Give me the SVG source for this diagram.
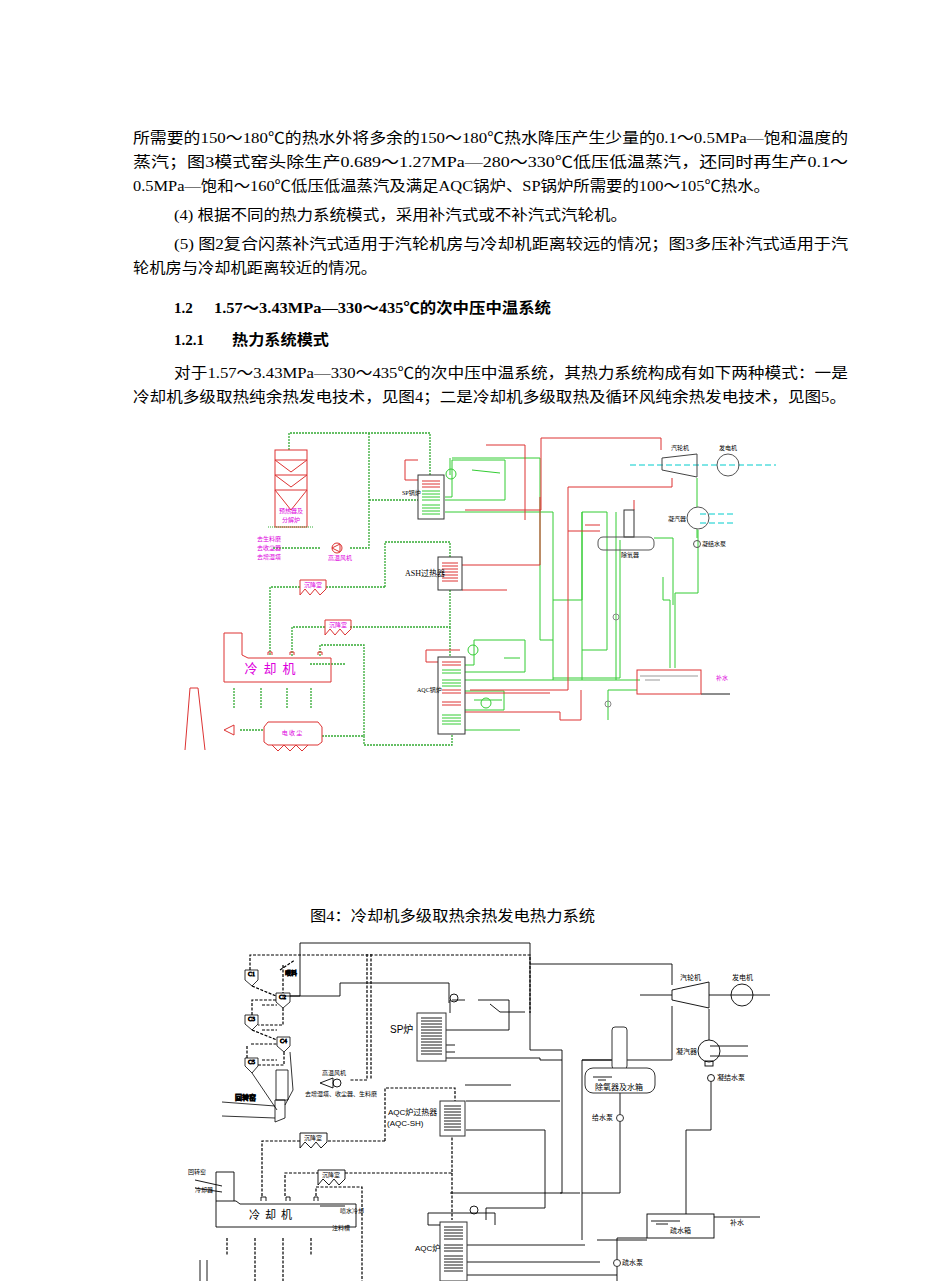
<svg xmlns="http://www.w3.org/2000/svg" width="950" height="1281" viewBox="0 0 950 1281">
<style>
.t{font-family:"Liberation Serif","Noto Sans CJK SC",serif;font-size:15px;fill:#000}
.b{font-weight:bold}
.s{font-family:"Liberation Serif","Noto Sans CJK SC",serif;font-size:6px;fill:#000}
.m{font-family:"Noto Sans CJK SC",sans-serif;font-size:6px;fill:#d0d}
.g{fill:none;stroke:#33cc33;stroke-width:1}
.gd{fill:none;stroke:#33aa33;stroke-width:1.3;stroke-dasharray:2 1}
.r{fill:none;stroke:#dd3333;stroke-width:1}
.k{fill:none;stroke:#000;stroke-width:0.9}
.kd{fill:none;stroke:#000;stroke-width:1.2;stroke-dasharray:3 1.5}
.bx{fill:#fff;stroke:#333;stroke-width:1}
.c{fill:none;stroke:#00cccc;stroke-dasharray:6 3}
</style>
<rect width="950" height="1281" fill="#fff"/>
<g id="text">
<text class="t" x="133" y="143" textLength="715" lengthAdjust="spacingAndGlyphs">所需要的150～180℃的热水外将多余的150～180℃热水降压产生少量的0.1～0.5MPa—饱和温度的</text>
<text class="t" x="133" y="167" textLength="715" lengthAdjust="spacingAndGlyphs">蒸汽；图3模式窑头除生产0.689～1.27MPa—280～330℃低压低温蒸汽，还同时再生产0.1～</text>
<text class="t" x="133" y="191" textLength="637" lengthAdjust="spacingAndGlyphs">0.5MPa—饱和～160℃低压低温蒸汽及满足AQC锅炉、SP锅炉所需要的100～105℃热水。</text>
<text class="t" x="174" y="220" textLength="453" lengthAdjust="spacingAndGlyphs">(4) 根据不同的热力系统模式，采用补汽式或不补汽式汽轮机。</text>
<text class="t" x="174" y="249" textLength="674" lengthAdjust="spacingAndGlyphs">(5) 图2复合闪蒸补汽式适用于汽轮机房与冷却机距离较远的情况；图3多压补汽式适用于汽</text>
<text class="t" x="133" y="273" textLength="244" lengthAdjust="spacingAndGlyphs">轮机房与冷却机距离较近的情况。</text>
<text class="t b" x="174" y="313">1.2</text>
<text class="t b" x="214" y="313" textLength="337" lengthAdjust="spacingAndGlyphs">1.57～3.43MPa—330～435℃的次中压中温系统</text>
<text class="t b" x="174" y="345">1.2.1</text>
<text class="t b" x="232" y="345" textLength="97" lengthAdjust="spacingAndGlyphs">热力系统模式</text>
<text class="t" x="174" y="378" textLength="674" lengthAdjust="spacingAndGlyphs">对于1.57～3.43MPa—330～435℃的次中压中温系统，其热力系统构成有如下两种模式：一是</text>
<text class="t" x="133" y="402" textLength="713" lengthAdjust="spacingAndGlyphs">冷却机多级取热纯余热发电技术，见图4；二是冷却机多级取热及循环风纯余热发电技术，见图5。</text>
<text class="t" x="310" y="921" textLength="285" lengthAdjust="spacingAndGlyphs">图4：冷却机多级取热余热发电热力系统</text>
</g>
<g id="connectors">
<path class="gd" d="M289 450V433H430V475M369 433V548H350M320 548H272M369 500H418"/>
<path class="gd" d="M385 587H326M300 587H270V656M385 587V542H450V557"/>
<path class="gd" d="M292 656V627H325M350 627H450V590M450 627V657"/>
<path class="gd" d="M320 656V645H364V736H322M364 736V745H452V732"/>
<path class="gd" d="M240 730H264M234 688V708M261 688V708M287 688V708M311 688V708M310 664H345"/>
<path class="g" d="M450 475V458M445 497H452V460H505V500H445M445 512H553V680M452 458H540V640H553M472 470L500 473"/>
<path class="g" d="M465 665H474V640H525V672H465M465 680H640M465 710H504V691H465M474 700H502M465 730H520M504 658L520 658"/>
<path class="g" d="M553 600H582V512H607V650H582M582 512V680M616 512V680M620 540V678H553"/>
<path class="g" d="M654 538H673V605M663 577V600H670V668M698 530V593H675V668M608 690V720M608 690H637"/>
<path class="r" d="M541 438H661V450M541 438V510H465M568 487H672V478M568 487V690H470M585 525H600M568 531H600"/>
<path class="r" d="M486 445H525V520M418 460H405V480H418M460 650H426V662H438M465 693H550M465 712H560V720H581V690"/>
<path class="r" d="M462 565H540V497M462 590H507"/>
<path class="r" d="M634 510V500"/>
<path class="k" d="M701 694H730"/>
<path class="c" d="M630 465H776M700 514H735M700 523H735"/>
<path class="g" d="M697 478V507M697 529V538"/>
<path class="k" d="M300 943H530V1050M283 996H300V943M530 964H672V985M530 1050H562V1193H450M511 1085H465M465 1000H452M560 1101H466M466 1130H545V1208H486V1220"/>
<path class="k" d="M340 983H449V1003M340 983V996H290M450 1000V1013M446 1030H509V1000H478M490 1004L500 1012H525M446 1058H540V1060H562"/>
<path class="k" d="M446 1045H455M446 1052H455M582 1240V1060H672V1006M582 1060H620"/>
<path class="k" d="M620 1093V1193H582M560 1193H580"/>
<path class="k" d="M709 1009V1040M711 1082V1130H686V1214M597 1240H647M617 1238V1281M617 1238H647M714 1217H760M710 1046H748M710 1056H748"/>
<path class="k" d="M466 1245H585M466 1262H600M466 1275H617"/>
<path class="kd" d="M367 954V1080H350M371 954V1080M250 970V955H530V1013M262 1030H277M251 1044H277M262 1060H277M262 1005H277"/>
<path class="kd" d="M252 986L276 996M283 1008V1025H258M252 1030L277 1040M284 1052V1065H258M252 1015V1000H276M247 1058V1045M283 965V993M280 970L295 960"/>
<path class="kd" d="M385 1141H327M300 1141H262V1196M385 1141V1088H455V1101M285 1196V1173H318M345 1173H452V1136M452 1173V1220"/>
<path class="kd" d="M316 1196V1187H362V1281"/>
<path class="kd" d="M227 1238V1255M255 1238V1281M283 1238V1281M311 1238V1255"/>
</g>
<g id="preheater1">
<rect x="275" y="450" width="32" height="77" class="r"/>
<path class="r" d="M275 460H307M275 475H307M275 490H307M275 460L291 472L307 460M275 475L291 487L307 475M275 490L291 510L307 490"/>
<path d="M268 527H314" stroke="#33aa33" stroke-dasharray="1 1"/>
<text class="m" x="291" y="513" text-anchor="middle">预热器及</text>
<text class="m" x="291" y="522" text-anchor="middle">分解炉</text>
</g>
<g id="fan1">
<circle cx="337" cy="548" r="5" class="r"/><path class="r" d="M332 548L340 544V552Z"/>
<text class="m" x="340" y="560" text-anchor="middle">高温风机</text>
<text class="m" x="257" y="541">去生料磨</text><text class="m" x="257" y="550">去收尘器</text><text class="m" x="257" y="559">去增湿塔</text>
</g>
<g id="sp1"><rect x="418" y="475" width="26" height="44" class="bx"/>
<path class="r" d="M422 481H440M422 484H440M422 487H440"/><path class="g" d="M422 491H440M422 494H440M422 497H440M422 500H440M422 505H440M422 508H440M422 511H440M422 514H440"/>
<text class="s" x="402" y="495">SP锅炉</text></g>
<g id="ash1"><rect x="438" y="557" width="24" height="33" class="bx"/>
<path class="r" d="M442 563H458M442 566H458M442 569H458M442 572H458M442 575H458M442 578H458M442 581H458"/>
<text class="s" x="405" y="576" style="font-size:8px">ASH过热器</text></g>
<g id="aqc1"><rect x="438" y="657" width="27" height="77" class="bx"/>
<path class="r" d="M442 662H461M442 665H461M442 690H461M442 693H461M442 702H461M442 705H461"/><path class="g" d="M442 670H461M442 673H461M442 680H461M442 683H461M442 686H461M442 715H461M442 718H461M442 721H461M442 724H461"/>
<text class="s" x="417" y="692">AQC锅炉</text>
<circle cx="473" cy="650" r="5" class="g"/><circle cx="486" cy="703" r="5" class="g"/><circle cx="451" cy="474" r="5" class="g"/></g>
<g id="settle1"><path class="r" d="M300 580H326V589L320 595L315 589L310 595L305 589L300 595Z"/><text class="m" x="313" y="587" text-anchor="middle">沉降室</text>
<path class="r" d="M325 620H351V629L345 635L340 629L335 635L330 629L325 635Z"/><text class="m" x="338" y="627" text-anchor="middle">沉降室</text></g>
<g id="cooler1"><path class="r" d="M224 633H242V655L248 658H331V682H224Z"/><text x="273" y="673" text-anchor="middle" style="font-family:'Noto Sans CJK SC',sans-serif;font-size:13px;fill:#d0d;letter-spacing:6px">冷却机</text>
<path class="r" d="M268 655V652H272V655M290 655V652H294V655M318 655V652H322V655"/></g>
<g id="esp1"><path class="r" d="M268 722H318L322 727V742L318 745H268L264 742V727Z M272 745L278 751L284 745L290 751L296 745L302 751L308 745"/>
<text class="m" x="292" y="735" text-anchor="middle">电 收 尘</text>
<path class="r" d="M224 730L234 725V735Z"/><path class="r" d="M185 750L190 688H198L205 750"/></g>
<g id="turbine1"><path d="M662 458L697 454V477L662 470Z" fill="none" stroke="#444"/><circle cx="728" cy="465" r="11" fill="none" stroke="#555"/>
<text class="s" x="680" y="450" text-anchor="middle">汽轮机</text><text class="s" x="728" y="450" text-anchor="middle">发电机</text></g>
<g id="cond1"><circle cx="698" cy="518" r="11" fill="none" stroke="#555"/><circle cx="697" cy="544" r="3.5" fill="none" stroke="#555"/>
<text class="s" x="668" y="521">凝汽器</text><text class="s" x="702" y="546">凝结水泵</text></g>
<g id="dea1"><rect x="624" y="510" width="10" height="27" fill="none" stroke="#333"/><rect x="598" y="537" width="56" height="13" rx="5" fill="none" stroke="#555"/>
<text class="s" x="630" y="557" text-anchor="middle">除氧器</text></g>
<g id="tank1"><rect x="637" y="670" width="64" height="24" class="r"/><path d="M640 676H698M645 680H660" stroke="#555" stroke-width="0.6"/>
<text class="m" x="716" y="680">补水</text><circle cx="616" cy="617" r="3" fill="none" stroke="#888"/><circle cx="608" cy="704" r="3" fill="none" stroke="#888"/></g>
<g id="preheater2" fill="none" stroke="#000" stroke-width="0.8">
<path d="M245 970H258V980L252 986L245 980Z"/><text class="s" x="248" y="976">C1</text>
<path d="M276 993H290V1002L283 1008L276 1002Z"/><text class="s" x="279" y="999">C2</text>
<path d="M245 1015H258V1024L252 1030L245 1024Z"/><text class="s" x="248" y="1021">C3</text>
<path d="M277 1037H290V1046L284 1052L277 1046Z"/><text class="s" x="280" y="1043">C4</text>
<path d="M245 1058H258V1066L252 1073L245 1066Z"/><text class="s" x="248" y="1064">C5</text>
<path d="M276 1070H288V1100H276Z M252 1073L277 1110M290 1052L293 1090L285 1105"/>
<path d="M275 1100H285V1118L275 1122Z M222 1102L275 1106M222 1116L275 1118"/>
<text class="s" x="235" y="1100" style="font-size:7px">回转窑</text>
<text class="s" x="285" y="975">喂料</text>
</g>
<g id="fan2"><circle cx="337" cy="1083" r="4" class="k"/><path class="k" d="M320 1083L333 1078V1088Z"/>
<text class="s" x="322" y="1075">高温风机</text><text class="s" x="305" y="1096">去增湿塔、收尘器、生料磨</text></g>
<g id="sp2"><rect x="417" y="1013" width="29" height="48" class="bx"/>
<path class="k" d="M421 1018H442M421 1021H442M421 1024H442M421 1027H442M421 1030H442M421 1033H442M421 1036H442M421 1039H442M421 1042H442M421 1045H442M421 1048H442M421 1051H442M421 1054H442"/>
<text x="390" y="1033" style="font-family:'Liberation Sans','Noto Sans CJK SC',sans-serif;font-size:10px">SP炉</text><circle cx="454" cy="998" r="4" class="k"/></g>
<g id="aqcsh2"><rect x="440" y="1101" width="25" height="35" class="bx"/>
<path class="k" d="M444 1106H461M444 1109H461M444 1112H461M444 1115H461M444 1118H461M444 1121H461M444 1124H461M444 1127H461M444 1130H461"/>
<text x="388" y="1115" style="font-family:'Liberation Sans','Noto Sans CJK SC',sans-serif;font-size:8px">AQC炉过热器</text>
<text x="387" y="1126" style="font-family:'Liberation Sans','Noto Sans CJK SC',sans-serif;font-size:8px">(AQC-SH)</text></g>
<g id="settle2"><path class="k" d="M300 1133H327V1142L321 1148L316 1142L311 1148L305 1142L300 1148Z"/><text class="s" x="313" y="1140" text-anchor="middle">沉降室</text>
<path class="k" d="M318 1170H345V1179L339 1185L334 1179L329 1185L323 1179L318 1185Z"/><text class="s" x="331" y="1177" text-anchor="middle">沉降室</text></g>
<g id="cooler2"><path class="k" d="M216 1201H236L240 1204H356V1227H216Z M216 1201V1172H234V1201"/>
<text x="273" y="1219" text-anchor="middle" style="font-family:'Noto Sans CJK SC',sans-serif;font-size:11px;letter-spacing:5px">冷却机</text>
<path class="k" d="M261 1201V1197H266V1201M286 1201V1197H290V1201M314 1201V1197H318V1201M320 1206H345"/>
<text class="s" x="340" y="1213">喷水冷却</text><text class="s" x="332" y="1230">注料槽</text>
<text class="s" x="188" y="1174">回转窑</text><text class="s" x="195" y="1192">冷却器</text>
<path class="k" d="M195 1180L222 1186M195 1188L222 1192M200 1260V1281M207 1260V1281"/></g>
<g id="aqc2"><rect x="440" y="1222" width="27" height="59" class="bx"/>
<path class="k" d="M444 1227H463M444 1230H463M444 1233H463M444 1236H463M444 1239H463M444 1245H463M444 1248H463M444 1251H463M444 1256H463M444 1259H463M444 1262H463M444 1265H463M444 1268H463M444 1271H463"/>
<text x="415" y="1251" style="font-family:'Liberation Sans','Noto Sans CJK SC',sans-serif;font-size:8px">AQC炉</text>
<circle cx="474" cy="1210" r="4" class="k"/><path class="k" d="M428 1213V1225H440M428 1213H495V1225"/></g>
<g id="turbine2"><path class="k" d="M672 990L709 982V1008L672 1000Z M640 995H672M709 995H770"/><circle cx="742" cy="995" r="11" class="k"/>
<text class="s" x="680" y="980" style="font-size:7px">汽轮机</text><text class="s" x="732" y="980" style="font-size:7px">发电机</text></g>
<g id="cond2"><circle cx="709" cy="1051" r="11" class="k"/><rect x="705" y="1061" width="8" height="5" class="k"/><circle cx="711" cy="1078" r="3.5" class="k"/>
<text class="s" x="676" y="1054" style="font-size:7px">凝汽器</text><text class="s" x="717" y="1080" style="font-size:7px">凝结水泵</text></g>
<g id="dea2"><rect x="612" y="1027" width="15" height="42" rx="3" class="bx"/><rect x="585" y="1068" width="70" height="25" rx="8" class="bx"/>
<path class="k" d="M593 1077H612M598 1080H606"/><text class="s" x="595" y="1090" style="font-size:8px">除氧器及水箱</text>
<circle cx="620" cy="1118" r="3.5" class="bx"/><text class="s" x="592" y="1120" style="font-size:7px">给水泵</text></g>
<g id="tank2"><rect x="647" y="1214" width="67" height="24" class="k"/><path class="k" d="M651 1221H680M656 1224H668"/>
<text class="s" x="670" y="1233" style="font-size:7px">疏水箱</text><text class="s" x="730" y="1225" style="font-size:7px">补水</text>
<circle cx="617" cy="1263" r="3.5" class="bx"/><text class="s" x="622" y="1265" style="font-size:7px">疏水泵</text></g>
</svg>
